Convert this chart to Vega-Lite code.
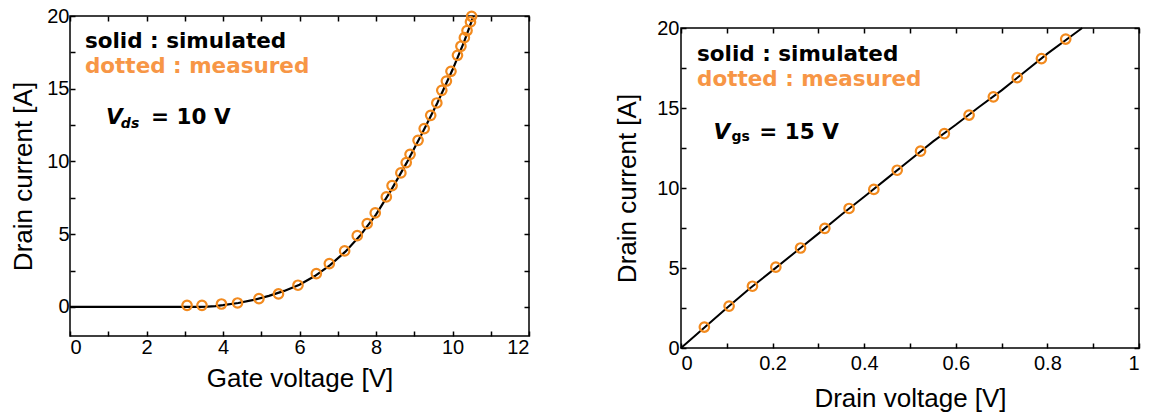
{
  "$schema": "https://vega.github.io/schema/vega-lite/v6.json",
  "background": "white",
  "padding": {"left": 10, "top": 5, "right": 0, "bottom": 0},
  "spacing": 83,
  "config": {
    "view": {"stroke": "black", "strokeWidth": 1.5},
    "axis": {
      "domain": false,
      "grid": false,
      "ticks": true,
      "tickColor": "black",
      "tickWidth": 1.5,
      "tickSize": -5,
      "labelFont": "Liberation Sans",
      "labelFontSize": 20,
      "labelColor": "black",
      "labelPadding": 6,
      "titleFont": "Liberation Sans",
      "titleFontSize": 26,
      "titleFontWeight": "normal",
      "titleColor": "black",
      "titlePadding": 8
    }
  },
  "datasets": {
    "gate_sim": [
      {"vgs": 0, "id": 0}, {"vgs": 3.4, "id": 0}, {"vgs": 3.6, "id": 0.02}, {"vgs": 3.8, "id": 0.06},
      {"vgs": 4.0, "id": 0.12}, {"vgs": 4.4, "id": 0.27}, {"vgs": 4.8, "id": 0.48}, {"vgs": 5.2, "id": 0.76},
      {"vgs": 5.6, "id": 1.1}, {"vgs": 6.0, "id": 1.52}, {"vgs": 6.4, "id": 2.12}, {"vgs": 6.8, "id": 2.88},
      {"vgs": 7.2, "id": 3.8}, {"vgs": 7.6, "id": 4.95}, {"vgs": 8.0, "id": 6.35}, {"vgs": 8.4, "id": 8.05},
      {"vgs": 8.8, "id": 9.9}, {"vgs": 9.2, "id": 11.9}, {"vgs": 9.6, "id": 14.0}, {"vgs": 10.0, "id": 16.3},
      {"vgs": 10.3, "id": 18.2}, {"vgs": 10.55, "id": 20.0}
    ],
    "gate_meas": [
      {"vgs": 3.06, "id": 0.11}, {"vgs": 3.45, "id": 0.11}, {"vgs": 3.96, "id": 0.2}, {"vgs": 4.38, "id": 0.27},
      {"vgs": 4.94, "id": 0.57}, {"vgs": 5.45, "id": 0.89}, {"vgs": 5.96, "id": 1.49}, {"vgs": 6.44, "id": 2.29},
      {"vgs": 6.78, "id": 2.98}, {"vgs": 7.18, "id": 3.85}, {"vgs": 7.51, "id": 4.9}, {"vgs": 7.77, "id": 5.73},
      {"vgs": 7.98, "id": 6.46}, {"vgs": 8.27, "id": 7.56}, {"vgs": 8.42, "id": 8.34}, {"vgs": 8.65, "id": 9.21},
      {"vgs": 8.79, "id": 9.92}, {"vgs": 8.89, "id": 10.49}, {"vgs": 9.1, "id": 11.45}, {"vgs": 9.26, "id": 12.26},
      {"vgs": 9.43, "id": 13.17}, {"vgs": 9.59, "id": 14.02}, {"vgs": 9.72, "id": 14.89}, {"vgs": 9.84, "id": 15.53},
      {"vgs": 9.96, "id": 16.2}, {"vgs": 10.13, "id": 17.3}, {"vgs": 10.22, "id": 17.92}, {"vgs": 10.31, "id": 18.51},
      {"vgs": 10.38, "id": 19.0}, {"vgs": 10.47, "id": 19.59}, {"vgs": 10.5, "id": 19.98}
    ],
    "drain_sim": [
      {"vds": 0, "id": 0}, {"vds": 0.05, "id": 1.25}, {"vds": 0.1, "id": 2.5}, {"vds": 0.15, "id": 3.72},
      {"vds": 0.2, "id": 4.85}, {"vds": 0.25, "id": 6.0}, {"vds": 0.3, "id": 7.15}, {"vds": 0.35, "id": 8.33},
      {"vds": 0.4, "id": 9.45}, {"vds": 0.45, "id": 10.6}, {"vds": 0.5, "id": 11.75}, {"vds": 0.55, "id": 12.9},
      {"vds": 0.6, "id": 13.95}, {"vds": 0.65, "id": 15.05}, {"vds": 0.7, "id": 16.1}, {"vds": 0.75, "id": 17.25},
      {"vds": 0.8, "id": 18.4}, {"vds": 0.876, "id": 20.0}
    ],
    "drain_meas": [
      {"vds": 0.051, "id": 1.31}, {"vds": 0.105, "id": 2.62}, {"vds": 0.156, "id": 3.86}, {"vds": 0.207, "id": 5.05},
      {"vds": 0.261, "id": 6.25}, {"vds": 0.314, "id": 7.48}, {"vds": 0.367, "id": 8.72}, {"vds": 0.421, "id": 9.91},
      {"vds": 0.472, "id": 11.11}, {"vds": 0.523, "id": 12.3}, {"vds": 0.575, "id": 13.4}, {"vds": 0.629, "id": 14.56},
      {"vds": 0.682, "id": 15.7}, {"vds": 0.734, "id": 16.9}, {"vds": 0.787, "id": 18.09}, {"vds": 0.84, "id": 19.31}
    ],
    "gate_notes": [
      {"x": 0.39, "y": 17.78, "label": "solid : simulated", "part": "legend", "kind": "simulated"},
      {"x": 0.39, "y": 16.08, "label": "dotted : measured", "part": "legend", "kind": "measured"},
      {"x": 0.94, "y": 12.56, "label": "V", "part": "symbol", "kind": "simulated"},
      {"x": 1.33, "y": 12.33, "label": "ds", "part": "sub", "kind": "simulated"},
      {"x": 2.12, "y": 12.56, "label": "= 10 V", "part": "value", "kind": "simulated"}
    ],
    "drain_notes": [
      {"x": 0.035, "y": 17.92, "label": "solid : simulated", "part": "legend", "kind": "simulated"},
      {"x": 0.035, "y": 16.36, "label": "dotted : measured", "part": "legend", "kind": "measured"},
      {"x": 0.071, "y": 13.09, "label": "V", "part": "symbol", "kind": "simulated"},
      {"x": 0.11, "y": 12.96, "label": "gs", "part": "sub", "kind": "simulated"},
      {"x": 0.171, "y": 13.09, "label": "= 15 V", "part": "value", "kind": "simulated"}
    ]
  },
  "hconcat": [
    {
      "width": 459,
      "height": 320,
      "layer": [
        {
          "data": {"name": "gate_sim"},
          "mark": {"type": "line", "color": "black", "strokeWidth": 2.2},
          "encoding": {
            "x": {"field": "vgs", "type": "quantitative",
                  "scale": {"domain": [0, 12], "nice": false, "zero": false},
                  "axis": {"orient": "bottom", "title": "Gate voltage [V]",
                           "values": [0, 1, 2, 3, 4, 5, 6, 7, 8, 9, 10, 11, 12],
                           "labelExpr": "datum.value % 2 === 0 ? datum.label : ''"}},
            "y": {"field": "id", "type": "quantitative",
                  "scale": {"domain": [-2, 20], "nice": false, "zero": false},
                  "axis": {"orient": "left", "title": "Drain current [A]", "titlePadding": 10,
                           "values": [0, 2.5, 5, 7.5, 10, 12.5, 15, 17.5, 20],
                           "labelExpr": "datum.value % 5 === 0 ? datum.label : ''"}}
          }
        },
        {
          "data": {"name": "gate_meas"},
          "mark": {"type": "point", "shape": "circle", "filled": false, "color": "#F28A1E", "strokeWidth": 2.2, "size": 90, "opacity": 1},
          "encoding": {
            "x": {"field": "vgs", "type": "quantitative",
                  "scale": {"domain": [0, 12], "nice": false, "zero": false},
                  "axis": {"orient": "top", "title": null, "labels": false,
                           "values": [0, 1, 2, 3, 4, 5, 6, 7, 8, 9, 10, 11, 12]}},
            "y": {"field": "id", "type": "quantitative",
                  "scale": {"domain": [-2, 20], "nice": false, "zero": false},
                  "axis": {"orient": "right", "title": null, "labels": false,
                           "values": [0, 2.5, 5, 7.5, 10, 12.5, 15, 17.5, 20]}}
          }
        },
        {
          "data": {"name": "gate_notes"},
          "transform": [{"filter": "datum.part === 'legend' || datum.part === 'value'"}],
          "mark": {"type": "text", "font": "DejaVu Sans", "fontWeight": "bold", "fontSize": 21.5, "align": "left", "baseline": "alphabetic"},
          "encoding": {
            "x": {"field": "x", "type": "quantitative", "axis": null, "scale": {"domain": [0, 12], "nice": false, "zero": false}},
            "y": {"field": "y", "type": "quantitative", "axis": null, "scale": {"domain": [-2, 20], "nice": false, "zero": false}},
            "text": {"field": "label"},
            "color": {"field": "kind", "type": "nominal", "legend": null,
                      "scale": {"domain": ["simulated", "measured"], "range": ["black", "#F79646"]}}
          }
        },
        {
          "data": {"name": "gate_notes"},
          "transform": [{"filter": "datum.part === 'symbol'"}],
          "mark": {"type": "text", "font": "DejaVu Sans", "fontWeight": "bold", "fontStyle": "italic", "fontSize": 21.5, "align": "left", "baseline": "alphabetic", "color": "black"},
          "encoding": {
            "x": {"field": "x", "type": "quantitative", "axis": null, "scale": {"domain": [0, 12], "nice": false, "zero": false}},
            "y": {"field": "y", "type": "quantitative", "axis": null, "scale": {"domain": [-2, 20], "nice": false, "zero": false}},
            "text": {"field": "label"}
          }
        },
        {
          "data": {"name": "gate_notes"},
          "transform": [{"filter": "datum.part === 'sub'"}],
          "mark": {"type": "text", "font": "DejaVu Sans", "fontWeight": "bold", "fontStyle": "italic", "fontSize": 14, "align": "left", "baseline": "alphabetic", "color": "black"},
          "encoding": {
            "x": {"field": "x", "type": "quantitative", "axis": null, "scale": {"domain": [0, 12], "nice": false, "zero": false}},
            "y": {"field": "y", "type": "quantitative", "axis": null, "scale": {"domain": [-2, 20], "nice": false, "zero": false}},
            "text": {"field": "label"}
          }
        }
      ],
      "resolve": {"axis": {"x": "independent", "y": "independent"}}
    },
    {
      "spacing": 0,
      "vconcat": [
        {
          "width": 458,
          "height": 1,
          "view": {"stroke": null},
          "data": {"values": []},
          "mark": {"type": "rule"},
          "encoding": {}
        },
        {
          "width": 458,
          "height": 320,
          "layer": [
            {
              "data": {"name": "drain_sim"},
              "mark": {"type": "line", "color": "black", "strokeWidth": 2},
              "encoding": {
                "x": {"field": "vds", "type": "quantitative",
                      "scale": {"domain": [0, 1], "nice": false, "zero": false},
                      "axis": {"orient": "bottom", "title": "Drain voltage [V]", "labelPadding": 10, "titlePadding": 12,
                               "values": [0, 0.1, 0.2, 0.3, 0.4, 0.5, 0.6, 0.7, 0.8, 0.9, 1],
                               "labelExpr": "round(datum.value * 10) % 2 === 0 ? format(datum.value, '~g') : ''"}},
                "y": {"field": "id", "type": "quantitative",
                      "scale": {"domain": [0, 20], "nice": false, "zero": false},
                      "axis": {"orient": "left", "title": "Drain current [A]", "titlePadding": 16, "labelPadding": 7,
                               "values": [0, 2.5, 5, 7.5, 10, 12.5, 15, 17.5, 20],
                               "labelExpr": "datum.value % 5 === 0 ? datum.label : ''"}}
              }
            },
            {
              "data": {"name": "drain_meas"},
              "mark": {"type": "point", "shape": "circle", "filled": false, "color": "#F28A1E", "strokeWidth": 2.2, "size": 90, "opacity": 1},
              "encoding": {
                "x": {"field": "vds", "type": "quantitative",
                      "scale": {"domain": [0, 1], "nice": false, "zero": false},
                      "axis": {"orient": "top", "title": null, "labels": false,
                               "values": [0, 0.1, 0.2, 0.3, 0.4, 0.5, 0.6, 0.7, 0.8, 0.9, 1]}},
                "y": {"field": "id", "type": "quantitative",
                      "scale": {"domain": [0, 20], "nice": false, "zero": false},
                      "axis": {"orient": "right", "title": null, "labels": false,
                               "values": [0, 2.5, 5, 7.5, 10, 12.5, 15, 17.5, 20]}}
              }
            },
            {
              "data": {"name": "drain_notes"},
              "transform": [{"filter": "datum.part === 'legend' || datum.part === 'value'"}],
              "mark": {"type": "text", "font": "DejaVu Sans", "fontWeight": "bold", "fontSize": 21.5, "align": "left", "baseline": "alphabetic"},
              "encoding": {
                "x": {"field": "x", "type": "quantitative", "axis": null, "scale": {"domain": [0, 1], "nice": false, "zero": false}},
                "y": {"field": "y", "type": "quantitative", "axis": null, "scale": {"domain": [0, 20], "nice": false, "zero": false}},
                "text": {"field": "label"},
                "color": {"field": "kind", "type": "nominal", "legend": null,
                          "scale": {"domain": ["simulated", "measured"], "range": ["black", "#F79646"]}}
              }
            },
            {
              "data": {"name": "drain_notes"},
              "transform": [{"filter": "datum.part === 'symbol'"}],
              "mark": {"type": "text", "font": "DejaVu Sans", "fontWeight": "bold", "fontStyle": "italic", "fontSize": 21.5, "align": "left", "baseline": "alphabetic", "color": "black"},
              "encoding": {
                "x": {"field": "x", "type": "quantitative", "axis": null, "scale": {"domain": [0, 1], "nice": false, "zero": false}},
                "y": {"field": "y", "type": "quantitative", "axis": null, "scale": {"domain": [0, 20], "nice": false, "zero": false}},
                "text": {"field": "label"}
              }
            },
            {
              "data": {"name": "drain_notes"},
              "transform": [{"filter": "datum.part === 'sub'"}],
              "mark": {"type": "text", "font": "DejaVu Sans", "fontWeight": "bold", "fontSize": 14, "align": "left", "baseline": "alphabetic", "color": "black"},
              "encoding": {
                "x": {"field": "x", "type": "quantitative", "axis": null, "scale": {"domain": [0, 1], "nice": false, "zero": false}},
                "y": {"field": "y", "type": "quantitative", "axis": null, "scale": {"domain": [0, 20], "nice": false, "zero": false}},
                "text": {"field": "label"}
              }
            }
          ],
          "resolve": {"axis": {"x": "independent", "y": "independent"}}
        }
      ]
    }
  ]
}
